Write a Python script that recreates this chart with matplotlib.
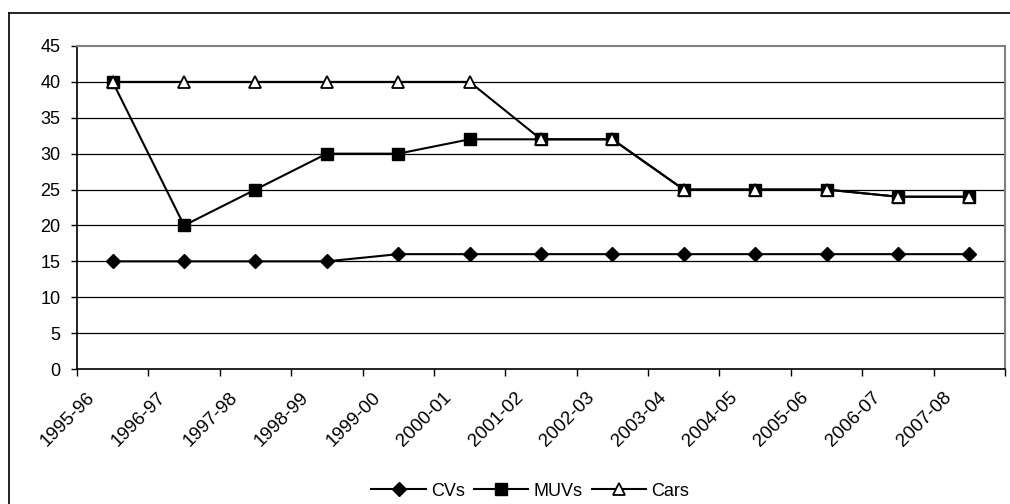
import matplotlib
matplotlib.use("Agg")
import matplotlib.pyplot as plt
from matplotlib.lines import Line2D
from matplotlib.transforms import ScaledTranslation
import numpy as np

plt.rcParams["font.family"] = ["Liberation Sans", "DejaVu Sans"]

years = ["1995-96", "1996-97", "1997-98", "1998-99", "1999-00", "2000-01", "2001-02",
         "2002-03", "2003-04", "2004-05", "2005-06", "2006-07", "2007-08"]
cvs = [15, 15, 15, 15, 16, 16, 16, 16, 16, 16, 16, 16, 16]
muvs = [40, 20, 25, 30, 30, 32, 32, 32, 25, 25, 25, 24, 24]
cars = [40, 40, 40, 40, 40, 40, 32, 32, 25, 25, 25, 24, 24]
y_ticks = [0, 5, 10, 15, 20, 25, 30, 35, 40, 45]

FS = 13

fig = plt.figure(figsize=(10.1, 5.04), dpi=100)
ax = fig.add_axes([77 / 1010, 1 - 369 / 504, (1005 - 77) / 1010, (369 - 46) / 504])

x = np.arange(len(years))
ax.plot(x, cvs, color="black", lw=1.5, marker="D", ms=7, mfc="black", mec="black",
        label="CVs", zorder=3)
ax.plot(x, muvs, color="black", lw=1.5, marker="s", ms=8, mfc="black", mec="black",
        label="MUVs", zorder=4)
ax.plot(x, cars, color="black", lw=1.5, marker="^", ms=9, mfc="white", mec="black",
        mew=1.3, label="Cars", zorder=5)

ax.set_xlim(-0.5, len(years) - 0.5)
ax.set_ylim(0, 45)
ax.set_yticks(y_ticks)
for v in y_ticks[1:-1]:
    ax.axhline(v, color="black", lw=0.9, zorder=1)

# ticks sit between categories, labels under the category centres
ax.set_xticks(np.arange(len(years) + 1) - 0.5)
ax.set_xticklabels([])
ax.set_xticks(x, minor=True)
ax.set_xticklabels(years, minor=True, rotation=45, ha="right", va="top",
                   rotation_mode="anchor", fontsize=FS + 0.5)
ax.tick_params(axis="x", which="minor", length=0, pad=0)
ax.tick_params(axis="x", which="major", length=5, width=1, direction="out")
ax.tick_params(axis="y", length=4, width=1, labelsize=FS, pad=8)
shift = ScaledTranslation(-0.265, -0.20, fig.dpi_scale_trans)
for lbl in ax.get_xticklabels(minor=True):
    lbl.set_transform(lbl.get_transform() + shift)

for side in ["left", "bottom"]:
    ax.spines[side].set_color("black")
    ax.spines[side].set_linewidth(1.2)
for side in ["top", "right"]:
    ax.spines[side].set_color("#808080")
    ax.spines[side].set_linewidth(1.5)

handles = [
    Line2D([], [], color="black", lw=1.5, marker="D", ms=7, mfc="black"),
    Line2D([], [], color="black", lw=1.5, marker="s", ms=8, mfc="black"),
    Line2D([], [], color="black", lw=1.5, marker="^", ms=9, mfc="white", mew=1.3),
]
fig.legend(handles, ["CVs", "MUVs", "Cars"], loc="center", bbox_to_anchor=(0.525, 1 - 491 / 504),
           ncol=3, frameon=False, fontsize=FS, handlelength=3.0, columnspacing=0.5,
           handletextpad=0.3)

# outer chart border (only top and left visible in the crop)
fig.add_artist(Line2D([9 / 1010, 1], [1 - 13 / 504, 1 - 13 / 504], color="black", lw=1.2,
                      transform=fig.transFigure))
fig.add_artist(Line2D([9 / 1010, 9 / 1010], [0, 1 - 13 / 504], color="black", lw=1.2,
                      transform=fig.transFigure))

fig.savefig("out.png", dpi=100)
